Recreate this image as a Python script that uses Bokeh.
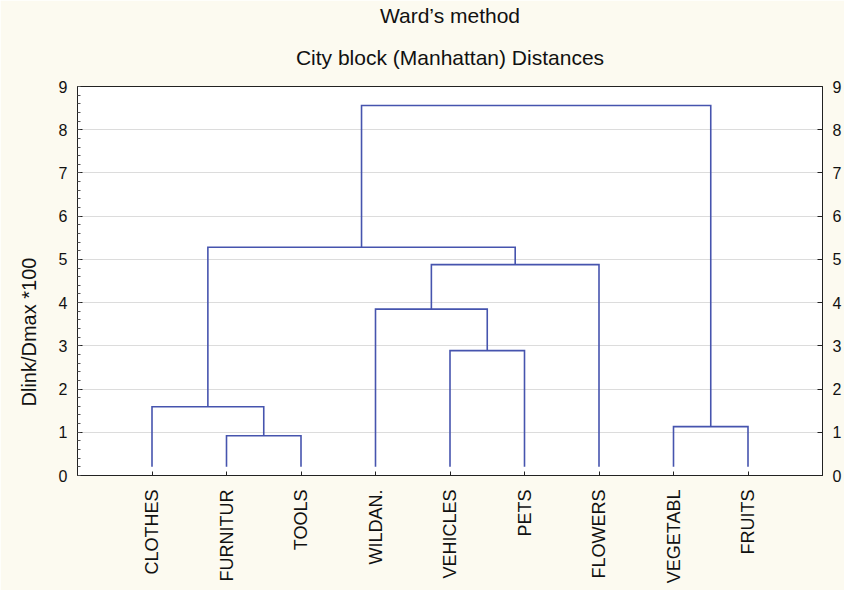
import math
from bokeh.plotting import figure
from bokeh.models import (LinearAxis, FixedTicker, SingleIntervalTicker, Title,
                          Range1d, ColumnDataSource)
from bokeh.embed import file_html
from bokeh.resources import INLINE

# ---- data ----
leaves = ["CLOTHES", "FURNITUR", "TOOLS", "WILDAN.", "VEHICLES",
          "PETS", "FLOWERS", "VEGETABL", "FRUITS"]
# merges: new cluster ids start at len(leaves)
merge_left = [1, 7, 0, 4, 3, 13, 11, 15]
merge_right = [2, 8, 9, 5, 12, 6, 14, 10]
merge_height = [0.92, 1.13, 1.59, 2.89, 3.85, 4.88, 5.28, 8.56]
y_ticks = [0, 1, 2, 3, 4, 5, 6, 7, 8, 9]
title_line1 = "Ward\u2019s method"
title_line2 = "City block (Manhattan) Distances"
y_label = "Dlink/Dmax *100"

LEAF_BASE = 0.2
FONT = "Liberation Sans"
LINE_COLOR = "#4654AE"
BG = "#FCFAF0"

# ---- build dendrogram paths ----
n = len(leaves)
pos = {i: float(i + 1) for i in range(n)}
hgt = {i: LEAF_BASE for i in range(n)}
xs, ys = [], []
for k, (a, b, h) in enumerate(zip(merge_left, merge_right, merge_height)):
    xa, xb = pos[a], pos[b]
    xs.append([xa, xa, xb, xb])
    ys.append([hgt[a], h, h, hgt[b]])
    cid = n + k
    pos[cid] = (xa + xb) / 2.0
    hgt[cid] = h

p = figure(width=844, height=590, x_range=Range1d(0, 10), y_range=Range1d(0, 9),
           output_backend="svg", toolbar_location=None,
           min_border_left=75, min_border_right=19, min_border_bottom=115,
           min_border_top=86,
           background_fill_color="#FFFFFF", border_fill_color=BG)
p.outline_line_color = "#222222"
p.outline_line_width = 1

src = ColumnDataSource(dict(xs=xs, ys=ys))
p.multi_line("xs", "ys", source=src, line_color=LINE_COLOR, line_width=1.6,
             line_join="miter")

# grid
p.xgrid.visible = False
p.ygrid.ticker = FixedTicker(ticks=y_ticks[1:-1])
p.ygrid.grid_line_color = "#B8B8B8"
p.ygrid.grid_line_dash = "1 1"
p.ygrid.grid_line_width = 1

# bottom axis
xa = p.xaxis[0]
xa.ticker = FixedTicker(ticks=[i + 1 for i in range(n)])
xa.major_label_overrides = {i + 1: name for i, name in enumerate(leaves)}
xa.major_label_orientation = math.pi / 2
xa.major_label_text_font = FONT
xa.major_label_text_font_size = "18px"
xa.major_label_text_color = "#111111"
xa.major_tick_in = 4
xa.major_tick_out = 0
xa.minor_tick_line_color = None
xa.major_tick_line_color = "#222222"
xa.axis_line_color = "#222222"
xa.major_label_standoff = 14

# left axis
ya = p.yaxis[0]
ya.ticker = SingleIntervalTicker(interval=1, num_minor_ticks=5)
ya.major_label_text_font = FONT
ya.major_label_text_font_size = "16px"
ya.major_label_text_color = "#111111"
ya.major_tick_in = 5
ya.major_tick_out = 0
ya.minor_tick_in = 3
ya.minor_tick_out = 0
ya.major_tick_line_color = "#222222"
ya.minor_tick_line_color = "#555555"
ya.axis_line_color = "#222222"
ya.major_label_standoff = 10

# right axis
ra = LinearAxis(ticker=SingleIntervalTicker(interval=1, num_minor_ticks=0))
ra.major_label_text_font = FONT
ra.major_label_text_font_size = "16px"
ra.major_label_text_color = "#111111"
ra.major_tick_in = 5
ra.major_tick_out = 0
ra.minor_tick_line_color = None
ra.major_tick_line_color = "#222222"
ra.axis_line_color = "#222222"
ra.major_label_standoff = 10
p.add_layout(ra, "right")

# titles: second line nearest the plot, first line above it
t2 = Title(text=title_line2, align="center", text_font=FONT, text_font_size="21px",
           text_font_style="normal", text_color="#111111", standoff=35)
t1 = Title(text=title_line1, align="center", text_font=FONT, text_font_size="21px",
           text_font_style="normal", text_color="#111111", standoff=0)
p.add_layout(t2, "above")
p.add_layout(t1, "above")

# y axis label, as a left-side title shifted down
yl = Title(text=y_label, align="left", offset=69, text_font=FONT,
           text_font_size="20px", text_font_style="normal", text_color="#111111",
           standoff=31)
p.add_layout(yl, "left")

open("out.html", "w").write(file_html(p, INLINE))
